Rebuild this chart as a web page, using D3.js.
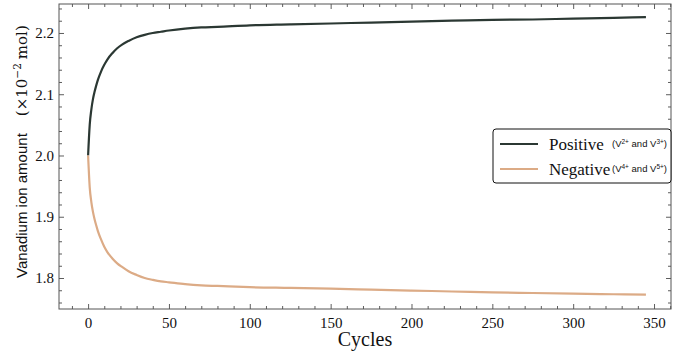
<!DOCTYPE html>
<html>
<head>
<meta charset="utf-8">
<script src="https://cdn.jsdelivr.net/npm/d3@7/dist/d3.min.js"></script>
<style>
  html, body { margin: 0; padding: 0; background: #fff; }
  svg { display: block; }
  .tick text { font-family: 'Liberation Serif', 'Times New Roman', serif; font-size: 15px; }
</style>
</head>
<body>
<svg id="chart" width="673" height="356"></svg>
<script>
// Cycle numbers at which the ion amounts were sampled
const cycles = [0, 1, 2, 3, 4, 5, 6, 8, 10, 12, 15, 18, 21, 25, 30, 35, 40, 45, 50,
  60, 70, 80, 100, 125, 150, 175, 200, 225, 250, 275, 300, 325, 345];

// Vanadium ion amount on the positive side (x10^-2 mol)
const positive = [2.000, 2.050, 2.075, 2.092, 2.104, 2.114, 2.123, 2.137, 2.148, 2.157,
  2.167, 2.175, 2.181, 2.187, 2.193, 2.197, 2.200, 2.202, 2.204,
  2.207, 2.209, 2.210, 2.2125, 2.214, 2.2155, 2.217, 2.2185, 2.220, 2.2215, 2.222, 2.2235, 2.2248, 2.226];

// Vanadium ion amount on the negative side (x10^-2 mol)
const negative = [2.000, 1.948, 1.924, 1.908, 1.896, 1.886, 1.877, 1.863, 1.851, 1.842,
  1.832, 1.824, 1.818, 1.811, 1.805, 1.800, 1.797, 1.7945, 1.793,
  1.790, 1.788, 1.787, 1.785, 1.7838, 1.7825, 1.781, 1.7795, 1.778, 1.7765, 1.7755, 1.7745, 1.7735, 1.773];

const xTicks = [0, 50, 100, 150, 200, 250, 300, 350];
const yTicks = [1.8, 1.9, 2.0, 2.1, 2.2];

const svg = d3.select("#chart");
const plotLeft = 59, plotRight = 671, plotTop = 4, plotBottom = 309;

const x = d3.scaleLinear().domain([-18, 360.5]).range([plotLeft, plotRight]);
const y = d3.scaleLinear().domain([1.7494, 2.2473]).range([plotBottom, plotTop]);

const serif = "'Liberation Serif', 'Times New Roman', serif";
const sans = "'Liberation Sans', Arial, sans-serif";

// Minor tick positions
const xMinor = d3.range(-10, 361, 10).filter(v => v % 50 !== 0);
const yMinor = d3.range(1.76, 2.241, 0.02).map(v => +v.toFixed(2)).filter(v => Math.abs(v * 10 - Math.round(v * 10)) > 1e-6);

function styleAxis(g) {
  g.attr("font-family", serif).attr("font-size", 15);
  g.select(".domain").remove();
  g.selectAll(".tick line").attr("stroke", "#333").attr("stroke-width", 0.8);
  g.selectAll(".tick text").attr("fill", "#111");
}

// Bottom axis with labels
svg.append("g").attr("transform", `translate(0,${plotBottom})`)
  .call(d3.axisBottom(x).tickValues(xTicks).tickSize(-5).tickPadding(8).tickFormat(d3.format("d")))
  .call(styleAxis);
svg.append("g").attr("transform", `translate(0,${plotBottom})`)
  .call(d3.axisBottom(x).tickValues(xMinor).tickSize(-3).tickFormat(""))
  .call(styleAxis);
// Top axis, ticks only
svg.append("g").attr("transform", `translate(0,${plotTop})`)
  .call(d3.axisTop(x).tickValues(xTicks).tickSize(-5).tickFormat(""))
  .call(styleAxis);
svg.append("g").attr("transform", `translate(0,${plotTop})`)
  .call(d3.axisTop(x).tickValues(xMinor).tickSize(-3).tickFormat(""))
  .call(styleAxis);

// Left axis with labels
svg.append("g").attr("transform", `translate(${plotLeft},0)`)
  .call(d3.axisLeft(y).tickValues(yTicks).tickSize(-5).tickPadding(5).tickFormat(d3.format(".1f")))
  .call(styleAxis);
svg.append("g").attr("transform", `translate(${plotLeft},0)`)
  .call(d3.axisLeft(y).tickValues(yMinor).tickSize(-3).tickFormat(""))
  .call(styleAxis);
// Right axis, ticks only
svg.append("g").attr("transform", `translate(${plotRight},0)`)
  .call(d3.axisRight(y).tickValues(yTicks).tickSize(-5).tickFormat(""))
  .call(styleAxis);
svg.append("g").attr("transform", `translate(${plotRight},0)`)
  .call(d3.axisRight(y).tickValues(yMinor).tickSize(-3).tickFormat(""))
  .call(styleAxis);

// Plot frame
svg.append("rect")
  .attr("x", plotLeft).attr("y", plotTop)
  .attr("width", plotRight - plotLeft).attr("height", plotBottom - plotTop)
  .attr("fill", "none").attr("stroke", "#555").attr("stroke-width", 1);

// Series lines
const series = [
  { values: positive, color: "#2b3833" },
  { values: negative, color: "#dcab86" }
];
const line = d3.line().curve(d3.curveMonotoneX);
series.forEach(s => {
  svg.append("path")
    .attr("d", line(cycles.map((c, i) => [x(c), y(s.values[i])])))
    .attr("fill", "none")
    .attr("stroke", s.color)
    .attr("stroke-width", 2.2)
    .attr("stroke-linejoin", "round")
    .attr("stroke-linecap", "butt");
});

// Axis titles
svg.append("text")
  .attr("x", (plotLeft + plotRight) / 2).attr("y", 346)
  .attr("text-anchor", "middle")
  .attr("font-family", serif).attr("font-size", 20).attr("fill", "#111")
  .text("Cycles");

const yt = svg.append("text")
  .attr("transform", "translate(26.5,278) rotate(-90)")
  .attr("fill", "#111");
yt.append("tspan").attr("font-family", sans).attr("font-size", 15).text("Vanadium ion amount");
yt.append("tspan").attr("dx", 17).attr("font-family", "'DejaVu Serif', serif").attr("font-size", 15).text("(×10");
yt.append("tspan").attr("dy", -6).attr("font-family", "'DejaVu Serif', serif").attr("font-size", 10.5).text("−2");
yt.append("tspan").attr("dy", 6).attr("dx", 4).attr("font-family", "'DejaVu Serif', serif").attr("font-size", 15).text("mol)");

// Legend
const legend = svg.append("g");
legend.append("rect")
  .attr("x", 493).attr("y", 129).attr("width", 178).attr("height", 54)
  .attr("rx", 3).attr("fill", "#fff").attr("stroke", "#111").attr("stroke-width", 1);

const legendItems = [
  { label: "Positive", ions: ["2+", "3+"], color: series[0].color, cy: 144 },
  { label: "Negative", ions: ["4+", "5+"], color: series[1].color, cy: 169 }
];
legendItems.forEach(d => {
  legend.append("line")
    .attr("x1", 500).attr("x2", 538).attr("y1", d.cy).attr("y2", d.cy)
    .attr("stroke", d.color).attr("stroke-width", 2.2);
  legend.append("text")
    .attr("x", 549).attr("y", d.cy + 5.5)
    .attr("font-family", serif).attr("font-size", 17).attr("fill", "#111")
    .text(d.label);
  const t = legend.append("text")
    .attr("x", 612).attr("y", d.cy + 3)
    .attr("font-family", sans).attr("font-size", 9.5).attr("fill", "#111");
  t.append("tspan").text("(V");
  t.append("tspan").attr("dy", -3.5).attr("font-size", 6.5).text(d.ions[0]);
  t.append("tspan").attr("dy", 3.5).text(" and V");
  t.append("tspan").attr("dy", -3.5).attr("font-size", 6.5).text(d.ions[1]);
  t.append("tspan").attr("dy", 3.5).text(")");
});
</script>
</body>
</html>
